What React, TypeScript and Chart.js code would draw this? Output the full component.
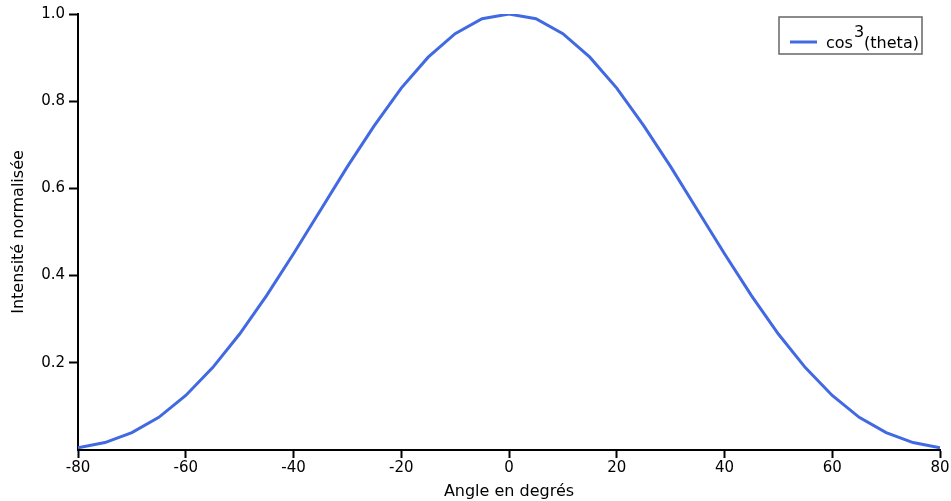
import React, { useEffect, useRef } from "react";
import { Chart, registerables } from "chart.js";

Chart.register(...registerables);

const angles = [-80, -75, -70, -65, -60, -55, -50, -45, -40, -35, -30, -25, -20, -15, -10, -5, 0, 5, 10, 15, 20, 25, 30, 35, 40, 45, 50, 55, 60, 65, 70, 75, 80];
const intensity = [0.005, 0.017, 0.040, 0.075, 0.125, 0.189, 0.266, 0.354, 0.450, 0.550, 0.650, 0.744, 0.830, 0.901, 0.955, 0.989, 1.0, 0.989, 0.955, 0.901, 0.830, 0.744, 0.650, 0.550, 0.450, 0.354, 0.266, 0.189, 0.125, 0.075, 0.040, 0.017, 0.005];
const xTicks = [-80, -60, -40, -20, 0, 20, 40, 60, 80];
const yTicks = [0.2, 0.4, 0.6, 0.8, 1.0];
const seriesName = "cos";
const seriesSup = "3";
const seriesTail = "(theta)";
const xTitle = "Angle en degrés";
const yTitle = "Intensité normalisée";

const FONT = "DejaVu Sans";
const BLUE = "rgb(65,105,225)";

const legendPlugin = {
  id: "customLegend",
  afterDraw(chart: any) {
    const { ctx, chartArea } = chart;
    const x0 = chartArea.right - 161;
    const y0 = chartArea.top + 3;
    const w = 143;
    const h = 37;
    ctx.save();
    ctx.fillStyle = "#fff";
    ctx.fillRect(x0, y0, w, h);
    ctx.strokeStyle = "#666";
    ctx.lineWidth = 1.5;
    ctx.strokeRect(x0, y0, w, h);
    ctx.strokeStyle = BLUE;
    ctx.lineWidth = 3;
    ctx.beginPath();
    ctx.moveTo(x0 + 11, y0 + 25);
    ctx.lineTo(x0 + 38, y0 + 25);
    ctx.stroke();
    ctx.fillStyle = "#000";
    ctx.textBaseline = "alphabetic";
    ctx.font = `16px "${FONT}"`;
    ctx.fillText(seriesName, x0 + 47, y0 + 31);
    const cw = ctx.measureText(seriesName).width;
    ctx.fillText(seriesSup, x0 + 47 + cw + 1, y0 + 20);
    const sw = ctx.measureText(seriesSup).width;
    ctx.fillText(seriesTail, x0 + 47 + cw + sw + 1, y0 + 31);
    ctx.restore();
  },
};

export default function App() {
  const ref = useRef<HTMLCanvasElement>(null);
  useEffect(() => {
    if (!ref.current) return;
    const chart = new Chart(ref.current, {
      type: "line",
      data: {
        datasets: [
          {
            label: "cos3(theta)",
            data: angles.map((a, i) => ({ x: a, y: intensity[i] })),
            borderColor: BLUE,
            borderWidth: 3,
            pointRadius: 0,
            fill: false,
            tension: 0,
          },
        ],
      },
      options: {
        animation: false,
        responsive: false,
        maintainAspectRatio: false,
        layout: { padding: { top: 14, right: 11, left: 0, bottom: 0 } },
        plugins: { legend: { display: false }, tooltip: { enabled: false } },
        scales: {
          x: {
            type: "linear",
            min: -80,
            max: 80,
            afterBuildTicks: (s: any) => {
              s.ticks = xTicks.map((v) => ({ value: v }));
            },
            afterFit: (s: any) => {
              s.height = 51;
            },
            grid: { display: true, drawOnChartArea: false, tickLength: 8, color: "#000", tickWidth: 2 },
            border: { display: true, color: "#000", width: 2 },
            ticks: { color: "#000", font: { family: FONT, size: 15 }, padding: 1, maxRotation: 0 },
            title: { display: true, text: xTitle, color: "#000", font: { family: FONT, size: 16 }, padding: { top: 0, bottom: 0 } },
          },
          y: {
            type: "linear",
            min: 0,
            max: 1,
            afterBuildTicks: (s: any) => {
              s.ticks = yTicks.map((v) => ({ value: v }));
            },
            afterFit: (s: any) => {
              s.width = 78;
            },
            grid: { display: true, drawOnChartArea: false, tickLength: 9, color: "#000", tickWidth: 2 },
            border: { display: true, color: "#000", width: 2 },
            ticks: { color: "#000", font: { family: FONT, size: 15 }, padding: 4, callback: (v: any) => Number(v).toFixed(1) },
            title: { display: true, text: yTitle, color: "#000", font: { family: FONT, size: 16 }, padding: { top: 9, bottom: 0 } },
          },
        },
      },
      plugins: [legendPlugin],
    });
    return () => chart.destroy();
  }, []);
  return (
    <div style={{ position: "fixed", left: 0, top: 0, width: 951, height: 501, background: "#fff" }}>
      <canvas ref={ref} width={951} height={501} style={{ width: 951, height: 501 }} />
    </div>
  );
}
